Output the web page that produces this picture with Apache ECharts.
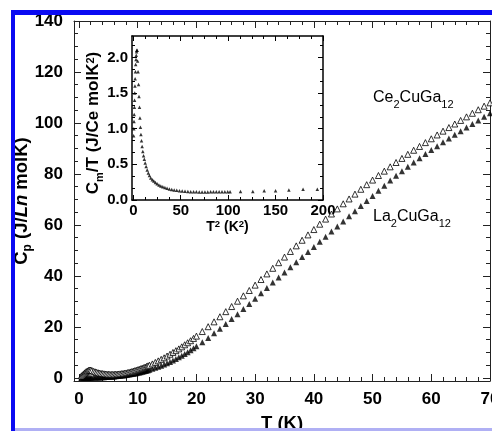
<!DOCTYPE html>
<html><head><meta charset="utf-8">
<script src="https://cdn.jsdelivr.net/npm/echarts@6/dist/echarts.min.js"></script>
<style>html,body{margin:0;padding:0;background:#fff}#c{width:492px;height:431px}</style>
</head><body><div id="c"></div>
<script>
// ---------- DATA ----------
const temps = [0.4,0.6,0.8,1.0,1.2,1.4,1.6,1.8,2.0,2.2,2.5,2.75,3.0,3.25,3.5,3.75,4.0,4.25,4.5,4.75,5.0,5.25,5.5,5.75,6.0,6.25,6.5,6.75,7.0,7.25,7.5,7.75,8.0,8.25,8.5,8.75,9.0,9.25,9.5,9.75,10.0,10.25,10.5,10.75,11.0,11.25,11.5,11.75,12.0,12.5,13.0,13.5,14.0,14.5,15.0,15.5,16.0,16.5,17.0,17.5,18.0,18.5,19.0,19.5,20.0,
21,22,23,24,25,26,27,28,29,30,31,32,33,34,35,36,37,38,39,40,41,42,43,44,45,46,47,48,49,50,51,52,53,54,55,56,57,58,59,60,61,62,63,64,65,66,67,68,69,70];
const ceCp = [0.8,1.2,1.6,2.0,2.4,2.7,2.95,3.1,3.1,2.9,2.6,2.4,2.2,2.05,1.9,1.8,1.7,1.62,1.55,1.5,1.45,1.42,1.4,1.42,1.45,1.47,1.5,1.55,1.6,1.67,1.75,1.85,1.95,2.07,2.2,2.35,2.5,2.67,2.85,3.02,3.2,3.4,3.6,3.8,4.0,4.25,4.5,4.75,5.0,5.5,6.1,6.7,7.3,7.9,8.6,9.3,10.0,10.7,11.4,12.2,13.0,13.8,14.6,15.5,16.4,
18.2,20.1,22.0,24.0,26.0,28.0,30.1,32.2,34.3,36.4,38.6,40.8,43.0,45.2,47.4,49.6,51.8,54.0,56.1,58.2,60.3,62.3,64.3,66.3,68.3,70.2,72.1,74.0,75.8,77.6,79.4,81.1,82.8,84.5,86.1,87.7,89.3,90.8,92.3,93.8,95.3,96.8,98.2,99.6,101.0,102.4,103.8,105.2,106.6,107.9];
const laCp = [0.02,0.03,0.04,0.05,0.06,0.07,0.08,0.09,0.1,0.11,0.14,0.16,0.18,0.2,0.22,0.25,0.28,0.31,0.34,0.38,0.42,0.46,0.5,0.55,0.6,0.66,0.72,0.78,0.85,0.92,1.0,1.08,1.16,1.25,1.34,1.44,1.54,1.65,1.76,1.88,2.0,2.13,2.26,2.4,2.55,2.7,2.86,3.03,3.2,3.56,3.95,4.36,4.8,5.27,5.77,6.3,6.86,7.45,8.07,8.72,9.4,10.1,10.85,11.6,12.4,
14.0,15.7,17.5,19.3,21.2,23.1,25.0,27.0,29.0,31.1,33.2,35.3,37.4,39.4,41.4,43.4,45.4,47.4,49.4,51.4,53.4,55.4,57.4,59.4,61.4,63.4,65.4,67.4,69.4,71.4,73.4,75.4,77.4,79.3,81.1,82.8,84.5,86.2,87.8,89.4,90.9,92.4,93.9,95.4,96.8,98.2,99.6,101.0,102.4,103.8];

const insetT2 = [0.3,0.5,0.7,0.9,1.1,1.3,1.5,1.7,1.9,2.2,2.5,2.8,3.1,3.4,3.7,
4.0,4.5,5.0,5.5,6.0,6.5,7.0,7.5,8.0,8.6,9.3,10.0,10.8,11.6,12.5,13.5,14.6,15.8,17.0,18.4,20.0,21.6,23.3,25.1,27.0,29.0,31.1,33.3,35.6,38.0,40.5,43.1,45.8,48.6,51.5,54.5,57.5,60.5,63.5,66.5,69.5,72.5,75.5,78.5,81.5,84.5,87.5,90.5,93.5,96.5,99.5,102.0,
113,126,138,150,164,179,194];
const insetCmT = [0.90,1.00,1.10,1.20,1.30,1.40,1.50,1.60,1.70,1.80,1.90,1.97,2.03,2.08,2.10,
2.10,1.95,1.80,1.62,1.45,1.30,1.15,1.02,0.92,0.83,0.75,0.68,0.62,0.57,0.52,0.47,0.42,0.38,0.345,0.31,0.285,0.265,0.245,0.228,0.212,0.198,0.186,0.175,0.165,0.156,0.148,0.141,0.135,0.130,0.126,0.122,0.119,0.117,0.115,0.114,0.113,0.113,0.113,0.113,0.114,0.114,0.115,0.115,0.116,0.116,0.117,0.117,
0.12,0.12,0.13,0.13,0.14,0.15,0.15];

const mainXMajor = [0,10,20,30,40,50,60,70];
const mainXMinor = [0,2,4,6,8,10,12,14,16,18,20,22,24,26,28,30,32,34,36,38,40,42,44,46,48,50,52,54,56,58,60,62,64,66,68,70];
const mainYMajor = [0,20,40,60,80,100,120,140];
const mainYMinor = [0,5,10,15,20,25,30,35,40,45,50,55,60,65,70,75,80,85,90,95,100,105,110,115,120,125,130,135,140];
const insXMajor = [0,50,100,150,200];
const insXMinor = [0,12.5,25,37.5,50,62.5,75,87.5,100,112.5,125,137.5,150,162.5,175,187.5,200];
const insYMajor = [0,0.5,1.0,1.5,2.0];
const insYMinor = [0,0.1667,0.3333,0.5,0.6667,0.8333,1.0,1.1667,1.3333,1.5,1.6667,1.8333,2.0,2.1667];

// ---------- STYLE ----------
const FONT = '"Liberation Sans", Arial, Helvetica, sans-serif';

function axes(dim, gridIndex, min, max, majors, minors, o) {
  const pos = dim === 'x' ? ['bottom','top'] : ['left','right'];
  const line = {show:true, onZero:false, lineStyle:{color:o.lineColor, width:o.lineWidth}};
  const noLine = {show:false, onZero:false};
  const tickLS = {color:o.lineColor, width:1};
  const base = {type:'value', gridIndex, min, max, splitLine:{show:false}, scale:false};
  const first = Object.assign({}, base, {position:pos[0], axisLine:line,
      axisTick:{show:true, inside:true, length:o.major, customValues:majors, lineStyle:tickLS},
      axisLabel:{show:true, customValues:majors, color:'#000', fontFamily:FONT, fontWeight:'bold', fontSize:o.fs, margin:o.margin, formatter:o.fmt},
      name:o.name, nameLocation:'middle', nameGap:o.nameGap, nameRotate:o.nameRotate, nameTextStyle:o.nameStyle});
  if (o.noMove) first.nameMoveOverlap = false;
  return [
    first,
    Object.assign({}, base, {position:pos[0], axisLine:noLine,
      axisTick:{show:true, inside:true, length:o.minor, customValues:minors, lineStyle:tickLS},
      axisLabel:{show:false}}),
    Object.assign({}, base, {position:pos[1], axisLine:line,
      axisTick:{show:true, inside:true, length:o.major, customValues:majors, lineStyle:tickLS},
      axisLabel:{show:false}}),
    Object.assign({}, base, {position:pos[1], axisLine:noLine,
      axisTick:{show:true, inside:true, length:o.minor, customValues:minors, lineStyle:tickLS},
      axisLabel:{show:false}})
  ];
}

const bigRich = {
  b:{fontFamily:FONT, fontWeight:'bold', fontSize:18.5, color:'#000', lineHeight:22, verticalAlign:'top'},
  i:{fontFamily:FONT, fontWeight:'bold', fontStyle:'italic', fontSize:18.5, color:'#000', lineHeight:22, verticalAlign:'top'},
  sub:{fontFamily:FONT, fontWeight:'bold', fontSize:12, color:'#000', lineHeight:12, padding:[15,0,0,0], verticalAlign:'bottom'}
};
const smallRich = {
  b:{fontFamily:FONT, fontWeight:'bold', fontSize:17, color:'#000', lineHeight:20, verticalAlign:'top'},
  e:{fontFamily:FONT, fontWeight:'bold', fontSize:17, color:'#000', lineHeight:20, verticalAlign:'top', padding:[0,10,0,0]},
  sub:{fontFamily:FONT, fontWeight:'bold', fontSize:11, color:'#000', lineHeight:10, padding:[11,0,0,0], verticalAlign:'bottom'},
  sup:{fontFamily:FONT, fontWeight:'bold', fontSize:11, color:'#000', lineHeight:10, verticalAlign:'top'}
};
const xRich = {
  b:{fontFamily:FONT, fontWeight:'bold', fontSize:14, color:'#000', lineHeight:17},
  sup:{fontFamily:FONT, fontWeight:'bold', fontSize:9.5, color:'#000', lineHeight:10, verticalAlign:'top'}
};
const labRich = {
  n:{fontFamily:FONT, fontSize:16, color:'#000', lineHeight:20, verticalAlign:'top'},
  s:{fontFamily:FONT, fontSize:11, color:'#000', lineHeight:12, padding:[13,0,0,0], verticalAlign:'bottom'}
};

const xs = [].concat(
  axes('x', 0, -0.85, 70, mainXMajor, mainXMinor, {lineColor:'#222', lineWidth:1, major:7, minor:4, fs:17, margin:10,
    fmt:v=>String(v), name:'{b|T (K)}', nameGap:33, nameStyle:{rich:bigRich}}),
  axes('x', 1, -1.4, 200, insXMajor, insXMinor, {lineColor:'#000', lineWidth:1.5, major:5, minor:3, fs:15, margin:3,
    fmt:v=>String(v), name:'{b|T}{sup|2}{b| (K}{sup|2}{b|)}', nameGap:16, nameStyle:{rich:xRich}})
);
const ys = [].concat(
  axes('y', 0, -1.2, 140, mainYMajor, mainYMinor, {lineColor:'#222', lineWidth:1, major:7, minor:4, fs:17, margin:11,
    fmt:v=>String(v), name:'{b|C}{sub|p}{b| (J/}{i|Ln}{b| molK)}', nameGap:40, nameRotate:90, noMove:true, nameStyle:{rich:bigRich}}),
  axes('y', 1, 0, 2.3, insYMajor, insYMinor, {lineColor:'#000', lineWidth:1.5, major:5, minor:3, fs:15, margin:4,
    fmt:v=>v.toFixed(1), name:'{b|C}{sub|m}{b|/T (J/Ce molK}{sup|2}{e|)}', nameGap:27, nameRotate:90, noMove:true, nameStyle:{rich:smallRich}})
);

const chart = echarts.init(document.getElementById('c'), null, {renderer:'canvas'});
chart.setOption({
  animation:false,
  backgroundColor:'#fff',
  grid:[
    {left:74, top:21, width:416, height:360, containLabel:false, outerBoundsMode:'none'},
    {left:132, top:36, width:191, height:164, containLabel:false, outerBoundsMode:'none', show:true, backgroundColor:'#fff', borderWidth:0}
  ],
  xAxis: xs,
  yAxis: ys,
  series:[
    {type:'scatter', name:'La2CuGa12', xAxisIndex:0, yAxisIndex:0, symbol:'triangle', symbolSize:6,
      itemStyle:{color:'#000'}, data: temps.map((t,i)=>[t, laCp[i]]), z:3},
    {type:'scatter', name:'Ce2CuGa12', xAxisIndex:0, yAxisIndex:0, symbol:'triangle', symbolSize:6,
      itemStyle:{color:'#fff', borderColor:'#000', borderWidth:1}, data: temps.map((t,i)=>[t, ceCp[i]]), z:4},
    {type:'scatter', name:'Cm/T', xAxisIndex:4, yAxisIndex:4, symbol:'triangle', symbolSize:3.5,
      itemStyle:{color:'#000'}, data: insetT2.map((t,i)=>[t, insetCmT[i]]), z:5}
  ],
  graphic:[
    {type:'text', z:50, style:{x:373, y:90, text:'{n|Ce}{s|2}{n|CuGa}{s|12}', verticalAlign:'top', rich:labRich}},
    {type:'text', z:50, style:{x:373, y:209, text:'{n|La}{s|2}{n|CuGa}{s|12}', verticalAlign:'top', rich:labRich}},
    {type:'rect', z:100, shape:{x:0, y:0, width:11, height:431}, style:{fill:'#fff'}},
    {type:'rect', z:100, shape:{x:0, y:0, width:492, height:10}, style:{fill:'#fff'}},
    {type:'rect', z:101, shape:{x:11, y:10, width:481, height:5}, style:{fill:'#0a0af2'}},
    {type:'rect', z:101, shape:{x:11, y:10, width:4, height:421}, style:{fill:'#0a0af2'}},
    {type:'rect', z:101, shape:{x:15, y:428, width:477, height:3}, style:{fill:'#b0b0f4'}}
  ]
});
</script></body></html>
